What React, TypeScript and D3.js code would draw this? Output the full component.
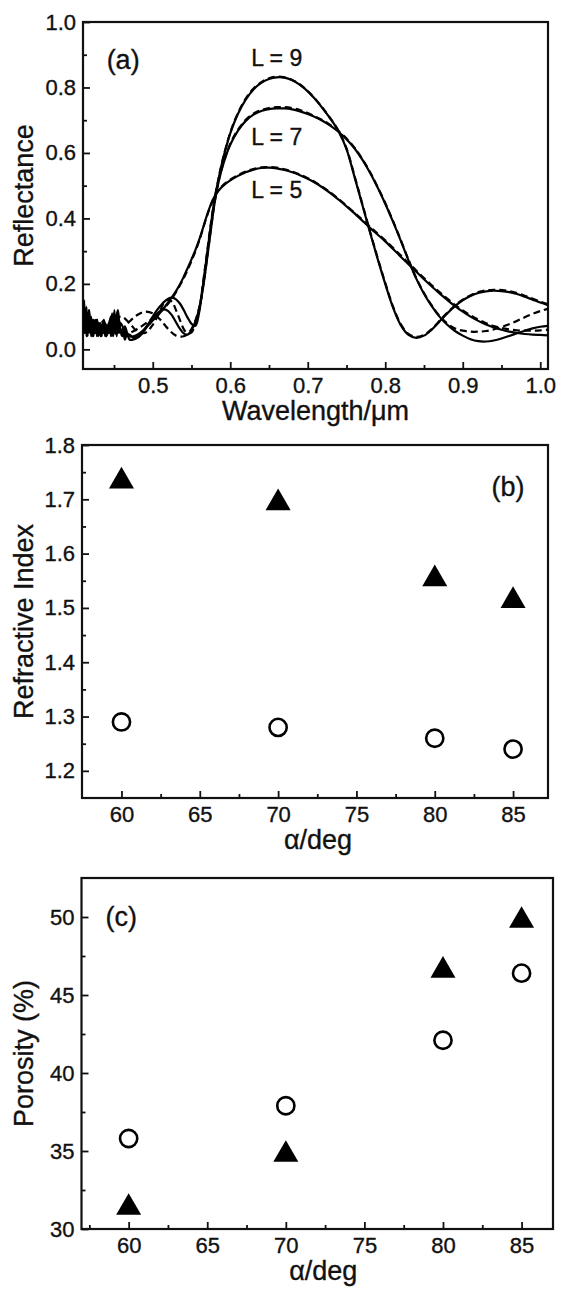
import { useEffect, useRef } from "react";
import * as d3 from "d3";

const W = 561;
const H = 1295;
const FONT = "'Liberation Sans', Arial, Helvetica, sans-serif";

// (a) reflectance vs wavelength (um); solid = measured, dashed = fitted
const solidL9: [number, number][] = [
  [0.410, 0.14], [0.4115, 0.05], [0.413, 0.12], [0.4145, 0.04], [0.416, 0.11], [0.4175, 0.05],
  [0.419, 0.10], [0.4205, 0.04], [0.422, 0.09], [0.4235, 0.04], [0.425, 0.08], [0.4265, 0.05],
  [0.428, 0.09], [0.4295, 0.04], [0.431, 0.08], [0.4325, 0.04], [0.434, 0.07], [0.4355, 0.05],
  [0.437, 0.08], [0.4385, 0.04], [0.440, 0.07], [0.4415, 0.05], [0.443, 0.08], [0.4445, 0.05],
  [0.446, 0.10], [0.4475, 0.04], [0.449, 0.11], [0.4505, 0.05], [0.452, 0.10], [0.4535, 0.04],
  [0.455, 0.09], [0.4565, 0.05], [0.458, 0.08], [0.461, 0.07], [0.464, 0.03], [0.467, 0.05],
  [0.470, 0.03],
  [0.475, 0.03], [0.48, 0.035], [0.485, 0.045], [0.49, 0.06], [0.495, 0.08], [0.50, 0.10],
  [0.505, 0.118], [0.51, 0.133], [0.515, 0.146], [0.52, 0.155], [0.525, 0.158], [0.53, 0.153],
  [0.535, 0.14], [0.54, 0.12], [0.545, 0.097], [0.55, 0.078], [0.555, 0.072], [0.56, 0.115],
  [0.565, 0.2], [0.57, 0.29], [0.575, 0.38], [0.58, 0.46], [0.585, 0.522], [0.59, 0.575],
  [0.595, 0.62], [0.60, 0.66], [0.61, 0.72], [0.62, 0.763], [0.63, 0.794], [0.64, 0.814],
  [0.65, 0.826], [0.66, 0.831], [0.67, 0.83], [0.68, 0.822], [0.69, 0.808], [0.70, 0.788],
  [0.71, 0.763], [0.72, 0.734], [0.73, 0.702], [0.74, 0.665], [0.75, 0.612], [0.76, 0.53],
  [0.77, 0.445], [0.78, 0.36], [0.79, 0.278], [0.80, 0.2], [0.81, 0.128], [0.82, 0.074],
  [0.83, 0.044], [0.84, 0.035], [0.85, 0.042], [0.86, 0.06], [0.87, 0.085], [0.88, 0.11],
  [0.89, 0.132], [0.90, 0.15], [0.91, 0.163], [0.92, 0.172], [0.93, 0.177], [0.94, 0.179],
  [0.95, 0.178], [0.96, 0.175], [0.97, 0.169], [0.98, 0.161], [0.99, 0.152], [1.0, 0.143],
  [1.01, 0.135],
];

const solidL7: [number, number][] = [
  [0.410, 0.06], [0.4115, 0.15], [0.413, 0.05], [0.4145, 0.13], [0.416, 0.04], [0.4175, 0.12],
  [0.419, 0.05], [0.4205, 0.10], [0.422, 0.04], [0.4235, 0.09], [0.425, 0.05], [0.4265, 0.09],
  [0.428, 0.04], [0.4295, 0.08], [0.431, 0.05], [0.4325, 0.08], [0.434, 0.04], [0.4355, 0.07],
  [0.437, 0.05], [0.4385, 0.08], [0.440, 0.04], [0.4415, 0.07], [0.443, 0.05], [0.4445, 0.09],
  [0.446, 0.04], [0.4475, 0.11], [0.449, 0.04], [0.4505, 0.12], [0.452, 0.05], [0.4535, 0.11],
  [0.455, 0.05], [0.4565, 0.09], [0.458, 0.06], [0.461, 0.04], [0.464, 0.06], [0.467, 0.04],
  [0.470, 0.045],
  [0.475, 0.035], [0.48, 0.04], [0.485, 0.05], [0.49, 0.064], [0.495, 0.08], [0.50, 0.095],
  [0.505, 0.108], [0.51, 0.118], [0.515, 0.122], [0.52, 0.117], [0.525, 0.103], [0.53, 0.083],
  [0.535, 0.063], [0.54, 0.049], [0.545, 0.045], [0.55, 0.058], [0.555, 0.085], [0.56, 0.125],
  [0.565, 0.19], [0.57, 0.275], [0.575, 0.365], [0.58, 0.45], [0.585, 0.512], [0.59, 0.558],
  [0.595, 0.595], [0.60, 0.625], [0.61, 0.668], [0.62, 0.698], [0.63, 0.717], [0.64, 0.728],
  [0.65, 0.734], [0.66, 0.736], [0.67, 0.736], [0.68, 0.733], [0.69, 0.727], [0.70, 0.719],
  [0.71, 0.709], [0.72, 0.697], [0.73, 0.682], [0.74, 0.664], [0.75, 0.642], [0.76, 0.615],
  [0.77, 0.581], [0.78, 0.541], [0.79, 0.495], [0.80, 0.445], [0.81, 0.39], [0.82, 0.332],
  [0.83, 0.272], [0.84, 0.216], [0.85, 0.17], [0.86, 0.132], [0.87, 0.1], [0.88, 0.075],
  [0.89, 0.056], [0.90, 0.042], [0.91, 0.031], [0.92, 0.025], [0.93, 0.024], [0.94, 0.027],
  [0.95, 0.033], [0.96, 0.041], [0.97, 0.049], [0.98, 0.057], [0.99, 0.064], [1.0, 0.069],
  [1.01, 0.072],
];

const solidL5: [number, number][] = [
  [0.410, 0.10], [0.412, 0.05], [0.414, 0.09], [0.416, 0.07], [0.418, 0.12], [0.420, 0.06],
  [0.422, 0.07], [0.424, 0.09], [0.426, 0.05], [0.428, 0.09], [0.431, 0.06], [0.434, 0.07],
  [0.437, 0.09], [0.440, 0.04], [0.443, 0.06], [0.446, 0.10], [0.449, 0.06], [0.452, 0.08],
  [0.455, 0.12], [0.458, 0.06], [0.461, 0.05], [0.464, 0.07], [0.467, 0.05], [0.470, 0.04],
  [0.475, 0.04], [0.48, 0.045], [0.485, 0.053], [0.49, 0.063], [0.495, 0.075], [0.50, 0.088],
  [0.505, 0.1], [0.51, 0.113], [0.515, 0.128], [0.52, 0.144], [0.525, 0.16], [0.53, 0.178],
  [0.535, 0.198], [0.54, 0.222], [0.545, 0.248], [0.55, 0.275], [0.555, 0.303], [0.56, 0.335],
  [0.565, 0.372], [0.57, 0.41], [0.575, 0.443], [0.58, 0.468], [0.585, 0.485], [0.59, 0.498],
  [0.60, 0.516], [0.61, 0.53], [0.62, 0.541], [0.63, 0.549], [0.64, 0.554], [0.65, 0.555],
  [0.66, 0.553], [0.67, 0.548], [0.68, 0.541], [0.69, 0.532], [0.70, 0.521], [0.71, 0.508],
  [0.72, 0.493], [0.73, 0.476], [0.74, 0.457], [0.75, 0.437], [0.76, 0.416], [0.77, 0.394],
  [0.78, 0.372], [0.79, 0.351], [0.80, 0.33], [0.81, 0.307], [0.82, 0.283], [0.83, 0.26],
  [0.84, 0.237], [0.85, 0.214], [0.86, 0.192], [0.87, 0.171], [0.88, 0.151], [0.89, 0.132],
  [0.90, 0.115], [0.91, 0.1], [0.92, 0.087], [0.93, 0.076], [0.94, 0.067], [0.95, 0.06],
  [0.96, 0.054], [0.97, 0.05], [0.98, 0.047], [0.99, 0.045], [1.0, 0.044], [1.01, 0.043],
];

const dashedL9: [number, number][] = [
  [0.41, 0.09], [0.42, 0.06], [0.43, 0.045], [0.44, 0.06], [0.45, 0.09], [0.46, 0.1],
  [0.47, 0.08], [0.48, 0.055], [0.49, 0.05], [0.50, 0.075], [0.51, 0.12], [0.515, 0.145],
  [0.52, 0.152], [0.525, 0.145], [0.53, 0.12], [0.535, 0.09], [0.54, 0.062], [0.545, 0.048],
  [0.55, 0.052], [0.555, 0.078], [0.56, 0.12], [0.565, 0.205], [0.57, 0.295], [0.575, 0.385],
  [0.58, 0.462], [0.585, 0.523], [0.59, 0.577], [0.60, 0.662], [0.61, 0.722], [0.62, 0.766],
  [0.63, 0.797], [0.64, 0.816], [0.65, 0.828], [0.66, 0.833], [0.67, 0.831], [0.68, 0.823],
  [0.69, 0.809], [0.70, 0.789], [0.71, 0.764], [0.72, 0.735], [0.73, 0.703], [0.74, 0.666],
  [0.75, 0.614], [0.76, 0.533], [0.77, 0.448], [0.78, 0.363], [0.79, 0.281], [0.80, 0.203],
  [0.81, 0.131], [0.82, 0.077], [0.83, 0.047], [0.84, 0.038], [0.85, 0.044], [0.86, 0.062],
  [0.87, 0.087], [0.88, 0.112], [0.89, 0.134], [0.90, 0.152], [0.92, 0.175], [0.94, 0.182],
  [0.96, 0.178], [0.98, 0.164], [1.0, 0.146], [1.01, 0.138],
];

const dashedL7: [number, number][] = [
  [0.41, 0.06], [0.42, 0.08], [0.43, 0.09], [0.44, 0.075], [0.45, 0.055], [0.46, 0.06],
  [0.47, 0.085], [0.48, 0.105], [0.49, 0.115], [0.50, 0.11], [0.51, 0.09], [0.52, 0.062],
  [0.53, 0.042], [0.54, 0.04], [0.545, 0.048], [0.55, 0.062], [0.555, 0.088], [0.56, 0.128],
  [0.565, 0.193], [0.57, 0.278], [0.575, 0.368], [0.58, 0.452], [0.585, 0.514], [0.59, 0.56],
  [0.60, 0.628], [0.61, 0.671], [0.62, 0.701], [0.63, 0.72], [0.64, 0.731], [0.65, 0.737],
  [0.66, 0.74], [0.67, 0.74], [0.68, 0.737], [0.69, 0.731], [0.70, 0.722], [0.71, 0.711],
  [0.72, 0.699], [0.73, 0.684], [0.74, 0.666], [0.75, 0.644], [0.76, 0.617], [0.77, 0.583],
  [0.78, 0.543], [0.79, 0.497], [0.80, 0.447], [0.81, 0.392], [0.82, 0.334], [0.83, 0.274],
  [0.84, 0.218], [0.85, 0.172], [0.86, 0.134], [0.87, 0.102], [0.88, 0.079], [0.89, 0.064],
  [0.90, 0.057], [0.91, 0.054], [0.92, 0.054], [0.93, 0.056], [0.94, 0.061], [0.95, 0.068],
  [0.96, 0.077], [0.97, 0.087], [0.98, 0.098], [0.99, 0.108], [1.0, 0.117], [1.01, 0.124],
];

const dashedL5: [number, number][] = [
  [0.41, 0.05], [0.42, 0.07], [0.43, 0.08], [0.44, 0.065], [0.45, 0.05], [0.46, 0.045],
  [0.47, 0.05], [0.48, 0.062], [0.49, 0.078], [0.50, 0.095], [0.51, 0.115], [0.52, 0.14],
  [0.53, 0.175], [0.54, 0.218], [0.55, 0.27], [0.56, 0.332], [0.57, 0.408], [0.58, 0.468],
  [0.59, 0.5], [0.60, 0.518], [0.61, 0.532], [0.62, 0.543], [0.63, 0.551], [0.64, 0.556],
  [0.65, 0.557], [0.66, 0.555], [0.67, 0.55], [0.68, 0.543], [0.69, 0.534], [0.70, 0.523],
  [0.71, 0.51], [0.72, 0.495], [0.73, 0.478], [0.74, 0.459], [0.75, 0.439], [0.76, 0.418],
  [0.77, 0.397], [0.78, 0.375], [0.79, 0.354], [0.80, 0.333], [0.81, 0.31], [0.82, 0.287],
  [0.83, 0.264], [0.84, 0.241], [0.85, 0.218], [0.86, 0.196], [0.87, 0.175], [0.88, 0.155],
  [0.89, 0.136], [0.90, 0.119], [0.91, 0.104], [0.92, 0.091], [0.93, 0.08], [0.94, 0.071],
  [0.95, 0.065], [0.96, 0.061], [0.97, 0.058], [0.98, 0.057], [0.99, 0.057], [1.0, 0.058],
  [1.01, 0.06],
];

// (b), (c) vs deposition angle
const angles = [60, 70, 80, 85];
const indexTriangle = [1.74, 1.70, 1.56, 1.52];
const indexCircle = [1.29, 1.28, 1.26, 1.24];
const porosityTriangle = [31.6, 35.0, 46.8, 50.0];
const porosityCircle = [35.8, 37.9, 42.1, 46.4];

// ticks
const waveTicks = [0.5, 0.6, 0.7, 0.8, 0.9, 1.0];
const waveMinor = [0.45, 0.55, 0.65, 0.75, 0.85, 0.95];
const reflTicks = [0.0, 0.2, 0.4, 0.6, 0.8, 1.0];
const reflMinor = [0.1, 0.3, 0.5, 0.7, 0.9];
const angleTicks = [60, 65, 70, 75, 80, 85];
const angleMinorB = [62.5, 67.5, 72.5, 77.5, 82.5];
const angleMinorC = [57.5, 62.5, 67.5, 72.5, 77.5, 82.5];
const indexTicks = [1.2, 1.3, 1.4, 1.5, 1.6, 1.7, 1.8];
const indexMinor = [1.25, 1.35, 1.45, 1.55, 1.65, 1.75];
const porosityTicks = [30, 35, 40, 45, 50];
const porosityMinor = [32.5, 37.5, 42.5, 47.5];

type Panel = {
  left: number; right: number; top: number; bottom: number;
  xDomain: [number, number]; yDomain: [number, number];
  xTicks: number[]; xMinor: number[]; yTicks: number[]; yMinor: number[];
  xFormat: (d: number) => string; yFormat: (d: number) => string;
  xTitle: string; yTitle: string; xTitleShift?: number;
};

// thin outline on text, imitates the heavier look of the scanned figure
const TEXT_STROKE = 0.35;

function drawPanel(svg: any, p: Panel) {
  const x = d3.scaleLinear().domain(p.xDomain).range([p.left, p.right]);
  const y = d3.scaleLinear().domain(p.yDomain).range([p.bottom, p.top]);

  const styleAxis = (g: any) => {
    g.select(".domain").remove();
    g.attr("font-family", FONT).attr("font-size", 22);
    g.selectAll("line").attr("stroke", "#111").attr("stroke-width", 1.8);
    g.selectAll("text").attr("fill", "#111")
      .attr("stroke", "#111").attr("stroke-width", TEXT_STROKE);
  };

  svg.append("g")
    .attr("transform", `translate(0,${p.bottom})`)
    .call(d3.axisBottom(x).tickValues(p.xTicks).tickFormat(p.xFormat as any)
      .tickSizeInner(-7).tickSizeOuter(0).tickPadding(8))
    .call(styleAxis);
  svg.append("g")
    .attr("transform", `translate(0,${p.bottom})`)
    .call(d3.axisBottom(x).tickValues(p.xMinor).tickFormat(() => "")
      .tickSizeInner(-4).tickSizeOuter(0))
    .call(styleAxis);
  svg.append("g")
    .attr("transform", `translate(${p.left},0)`)
    .call(d3.axisLeft(y).tickValues(p.yTicks).tickFormat(p.yFormat as any)
      .tickSizeInner(-7).tickSizeOuter(0).tickPadding(7))
    .call(styleAxis);
  svg.append("g")
    .attr("transform", `translate(${p.left},0)`)
    .call(d3.axisLeft(y).tickValues(p.yMinor).tickFormat(() => "")
      .tickSizeInner(-4).tickSizeOuter(0))
    .call(styleAxis);

  svg.append("rect")
    .attr("x", p.left).attr("y", p.top)
    .attr("width", p.right - p.left).attr("height", p.bottom - p.top)
    .attr("fill", "none").attr("stroke", "#111").attr("stroke-width", 2.2);

  svg.append("text")
    .attr("x", (p.left + p.right) / 2 + (p.xTitleShift || 0))
    .attr("y", p.bottom + 51)
    .attr("text-anchor", "middle")
    .attr("font-family", FONT).attr("font-size", 27).attr("fill", "#111")
    .attr("stroke", "#111").attr("stroke-width", TEXT_STROKE)
    .text(p.xTitle);
  svg.append("text")
    .attr("transform", `translate(33,${(p.top + p.bottom) / 2}) rotate(-90)`)
    .attr("text-anchor", "middle")
    .attr("font-family", FONT).attr("font-size", 27).attr("fill", "#111")
    .attr("stroke", "#111").attr("stroke-width", TEXT_STROKE)
    .text(p.yTitle);

  return { x, y };
}

function label(svg: any, px: number, py: number, text: string, size: number, anchor = "start") {
  svg.append("text")
    .attr("x", px).attr("y", py)
    .attr("text-anchor", anchor)
    .attr("font-family", FONT).attr("font-size", size).attr("fill", "#111")
    .attr("stroke", "#111").attr("stroke-width", TEXT_STROKE)
    .text(text);
}

function drawMarkers(svg: any, x: any, y: any, tri: number[], circ: number[]) {
  const triW = 25;
  const triH = triW * Math.sqrt(3) / 2;
  const triArea = (Math.sqrt(3) / 4) * triW * triW;
  const sym = d3.symbol().type(d3.symbolTriangle).size(triArea);
  svg.append("g").selectAll("path")
    .data(angles.map((a, i) => [a, tri[i]]))
    .join("path")
    .attr("transform", (d: number[]) => `translate(${x(d[0])},${y(d[1]) + triH / 6})`)
    .attr("d", sym() as string)
    .attr("fill", "#000");
  svg.append("g").selectAll("circle")
    .data(angles.map((a, i) => [a, circ[i]]))
    .join("circle")
    .attr("cx", (d: number[]) => x(d[0]))
    .attr("cy", (d: number[]) => y(d[1]))
    .attr("r", 8.6)
    .attr("fill", "none")
    .attr("stroke", "#000")
    .attr("stroke-width", 2.6);
}

export default function App() {
  const ref = useRef<SVGSVGElement | null>(null);

  useEffect(() => {
    const svg = d3.select(ref.current);
    svg.selectAll("*").remove();
    svg.append("rect").attr("width", W).attr("height", H).attr("fill", "#fff");

    // ---- (a) ----
    const pa: Panel = {
      left: 83, right: 548, top: 22, bottom: 369,
      xDomain: [0.41, 1.01], yDomain: [-0.06, 1.0],
      xTicks: waveTicks, xMinor: waveMinor, yTicks: reflTicks, yMinor: reflMinor,
      xFormat: d3.format(".1f"), yFormat: d3.format(".1f"),
      xTitle: "Wavelength/\u03bcm", yTitle: "Reflectance",
    };
    const a = drawPanel(svg, pa);
    svg.append("clipPath").attr("id", "clipA").append("rect")
      .attr("x", pa.left).attr("y", pa.top)
      .attr("width", pa.right - pa.left).attr("height", pa.bottom - pa.top);
    const line = d3.line<[number, number]>()
      .x((d) => a.x(d[0])).y((d) => a.y(d[1]))
      .curve(d3.curveCatmullRom.alpha(0.5));
    const curves = svg.append("g").attr("clip-path", "url(#clipA)");
    [dashedL9, dashedL7, dashedL5].forEach((c) => {
      curves.append("path").attr("d", line(c) as string)
        .attr("fill", "none").attr("stroke", "#000").attr("stroke-width", 2.2)
        .attr("stroke-dasharray", "7,4");
    });
    [solidL9, solidL7, solidL5].forEach((c) => {
      curves.append("path").attr("d", line(c) as string)
        .attr("fill", "none").attr("stroke", "#000").attr("stroke-width", 2.2);
    });
    label(svg, a.x(0.4405), a.y(0.855), "(a)", 27);
    label(svg, a.x(0.66), a.y(0.865), "L = 9", 23, "middle");
    label(svg, a.x(0.66), a.y(0.624), "L = 7", 23, "middle");
    label(svg, a.x(0.66), a.y(0.461), "L = 5", 23, "middle");

    // ---- (b) ----
    const pb: Panel = {
      left: 82, right: 548, top: 445, bottom: 798,
      xDomain: [57.48, 87.23], yDomain: [1.15, 1.8],
      xTicks: angleTicks, xMinor: angleMinorB, yTicks: indexTicks, yMinor: indexMinor,
      xFormat: d3.format("d"), yFormat: d3.format(".1f"),
      xTitle: "\u03b1/deg", yTitle: "Refractive Index", xTitleShift: 3,
    };
    const b = drawPanel(svg, pb);
    drawMarkers(svg, b.x, b.y, indexTriangle, indexCircle);
    label(svg, b.x(83.63), b.y(1.706), "(b)", 27);

    // ---- (c) ----
    const pc: Panel = {
      left: 81.5, right: 553, top: 878, bottom: 1229,
      xDomain: [57.0, 87.0], yDomain: [30, 52.5],
      xTicks: angleTicks, xMinor: angleMinorC, yTicks: porosityTicks, yMinor: porosityMinor,
      xFormat: d3.format("d"), yFormat: d3.format("d"),
      xTitle: "\u03b1/deg", yTitle: "Porosity (%)", xTitleShift: 6,
    };
    const c = drawPanel(svg, pc);
    drawMarkers(svg, c.x, c.y, porosityTriangle, porosityCircle);
    label(svg, c.x(58.53), c.y(49.4), "(c)", 27);
  }, []);

  return (
    <svg
      ref={ref}
      width={W}
      height={H}
      style={{ position: "absolute", left: 0, top: 0, display: "block" }}
    />
  );
}
